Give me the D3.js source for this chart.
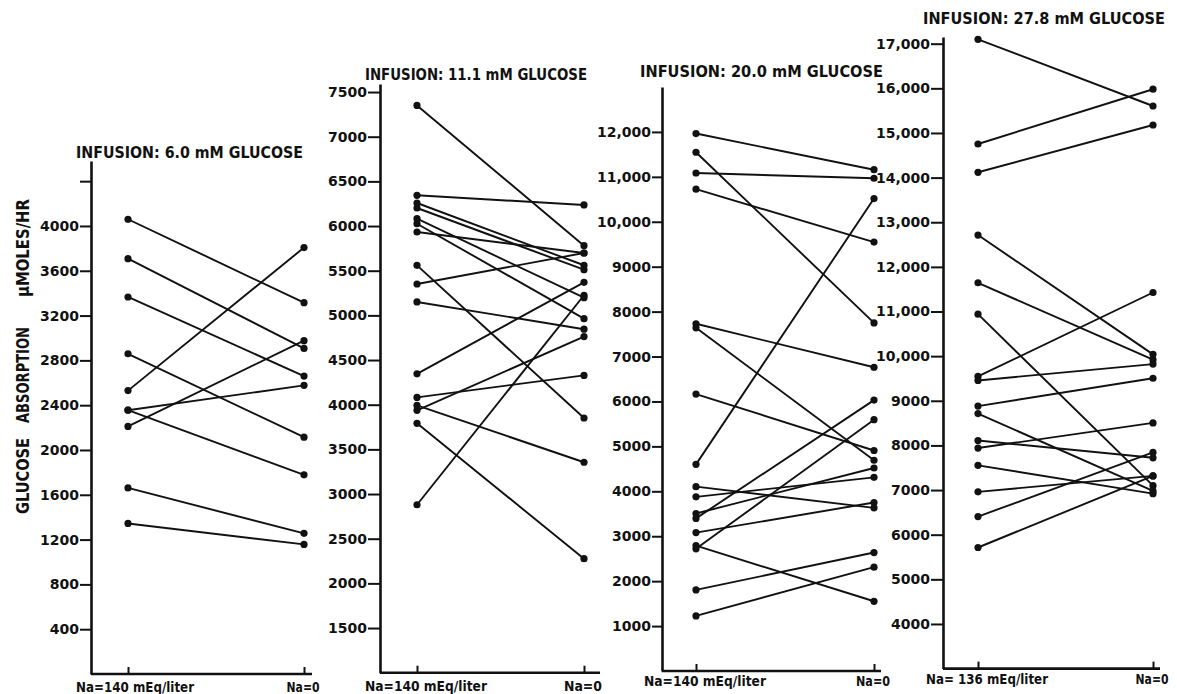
<!DOCTYPE html>
<html>
<head>
<meta charset="utf-8">
<script src="https://cdn.jsdelivr.net/npm/d3@7"></script>
<style>
  body { margin: 0; background: #fff; }
  svg { display: block; background: #fff; }
  text { font-family: "DejaVu Sans", sans-serif; font-weight: bold; fill: #111; }
</style>
</head>
<body>
<svg id="chart" width="1177" height="694"></svg>
<script>
// Glucose absorption (µmoles/hr) at normal luminal sodium vs. sodium-free,
// one panel for each glucose infusion concentration. Each line joins one experiment.

const titles = [
  "INFUSION: 6.0 mM GLUCOSE",
  "INFUSION: 11.1 mM GLUCOSE",
  "INFUSION: 20.0 mM GLUCOSE",
  "INFUSION: 27.8 mM GLUCOSE"
];

const conditions6  = ["Na=140 mEq/liter", "Na=0"];
const conditions11 = ["Na=140 mEq/liter", "Na=0"];
const conditions20 = ["Na=140 mEq/liter", "Na=0"];
const conditions28 = ["Na= 136 mEq/liter", "Na=0"];

const yTicks6  = [400, 800, 1200, 1600, 2000, 2400, 2800, 3200, 3600, 4000, 4400];
const yLabels6 = ["400", "800", "1200", "1600", "2000", "2400", "2800", "3200", "3600", "4000", ""];
const yTicks11  = [1500, 2000, 2500, 3000, 3500, 4000, 4500, 5000, 5500, 6000, 6500, 7000, 7500];
const yLabels11 = ["1500", "2000", "2500", "3000", "3500", "4000", "4500", "5000", "5500", "6000", "6500", "7000", "7500"];
const yTicks20  = [1000, 2000, 3000, 4000, 5000, 6000, 7000, 8000, 9000, 10000, 11000, 12000];
const yLabels20 = ["1000", "2000", "3000", "4000", "5000", "6000", "7000", "8000", "9000", "10,000", "11,000", "12,000"];
const yTicks28  = [4000, 5000, 6000, 7000, 8000, 9000, 10000, 11000, 12000, 13000, 14000, 15000, 16000, 17000];
const yLabels28 = ["4000", "5000", "6000", "7000", "8000", "9000", "10,000", "11,000", "12,000", "13,000", "14,000", "15,000", "16,000", "17,000"];

// paired values: withNa[i] -> noNa[i]
const withNa6 = [4060, 3708, 3366, 2859, 2530, 2355, 2355, 2210, 1661, 1344];
const noNa6   = [3315, 2907, 2660, 2114, 3807, 2577, 1778, 2976, 1256, 1157];

const withNa11 = [7350, 6344, 6258, 6202, 6082, 6026, 5933, 5560, 5351, 5150, 4346, 4082, 3992, 3937, 3792, 2880];
const noNa11   = [5780, 6236, 5561, 5511, 5198, 4963, 5698, 3851, 5698, 4845, 5370, 4328, 3356, 4763, 2276, 5225];

const withNa20 = [11964, 11548, 11086, 10725, 7730, 7640, 6165, 4600, 4103, 3877, 3506, 3397, 3081, 2791, 2719, 1805, 1226];
const noNa20   = [11159, 7748, 10969, 9548, 6762, 4691, 4908, 10517, 3632, 4311, 4519, 6030, 3750, 1552, 5595, 2637, 2312];

const withNa28 = [17099, 14753, 14119, 12713, 11644, 10941, 9545, 9455, 8881, 8713, 8109, 7941, 7554, 6960, 6406, 5713];
const noNa28   = [15604, 15980, 15178, 10040, 9921, 7099, 11426, 9822, 9505, 6980, 7723, 8505, 6920, 7317, 7842, 7317];

const panels = [
  { title: titles[0], cats: conditions6,  ticks: yTicks6,  labels: yLabels6,  a: withNa6,  b: noNa6 },
  { title: titles[1], cats: conditions11, ticks: yTicks11, labels: yLabels11, a: withNa11, b: noNa11 },
  { title: titles[2], cats: conditions20, ticks: yTicks20, labels: yLabels20, a: withNa20, b: noNa20 },
  { title: titles[3], cats: conditions28, ticks: yTicks28, labels: yLabels28, a: withNa28, b: noNa28 }
];

// page geometry for each panel
const frames = [
  { axisX: 91,  xl: 128, xr: 304,  xEnd: 312,  yDom: [0, 4580],     yRange: [674, 161],  tick: 11,
    titleX: 76,  titleW: 227, titleY: 158, catY: 692, leftW: 118, rightW: 33 },
  { axisX: 380, xl: 417, xr: 584,  xEnd: 600,  yDom: [1000, 7590],  yRange: [672.7, 84], tick: 12,
    titleX: 365, titleW: 222, titleY: 80,  catY: 691, leftW: 122, rightW: 38 },
  { axisX: 662, xl: 696, xr: 874,  xEnd: 881,  yDom: [0, 13000],    yRange: [671, 87],   tick: 10,
    titleX: 640, titleW: 243, titleY: 77,  catY: 686, leftW: 122, rightW: 34 },
  { axisX: 943, xl: 978, xr: 1153, xEnd: 1160, yDom: [3000, 17150], yRange: [668.6, 37], tick: 12,
    titleX: 923, titleW: 242, titleY: 24,  catY: 684, leftW: 122, rightW: 33 }
];

const svg = d3.select("#chart");

panels.forEach((p, k) => {
  const f = frames[k];
  const g = svg.append("g");

  const y = d3.scaleLinear().domain(f.yDom).range(f.yRange);
  const x = d3.scalePoint().domain(p.cats).range([f.xl, f.xr]);

  // vertical axis with outward ticks
  const yAxis = d3.axisLeft(y)
    .tickValues(p.ticks)
    .tickFormat((d, i) => p.labels[i])
    .tickSize(f.tick)
    .tickSizeOuter(0)
    .tickPadding(1);
  const ya = g.append("g").attr("transform", `translate(${f.axisX},0)`).call(yAxis);
  ya.select(".domain").attr("stroke", "#111").attr("stroke-width", 2.6);
  ya.selectAll(".tick line").attr("stroke", "#111").attr("stroke-width", 2);
  ya.selectAll(".tick text").style("font-size", "14px").attr("fill", "#111");

  // horizontal axis line
  const baseY = f.yRange[0];
  g.append("line")
    .attr("x1", f.axisX).attr("x2", f.xEnd)
    .attr("y1", baseY).attr("y2", baseY)
    .attr("stroke", "#111").attr("stroke-width", 2.6);

  // small upward category ticks
  const xAxis = d3.axisBottom(x).tickSize(-7).tickSizeOuter(0).tickFormat("");
  const xa = g.append("g").attr("transform", `translate(0,${baseY})`).call(xAxis);
  xa.select(".domain").remove();
  xa.selectAll(".tick line").attr("stroke", "#111").attr("stroke-width", 2);

  // category labels
  g.append("text")
    .attr("x", x(p.cats[0]) - 52).attr("y", f.catY)
    .attr("textLength", f.leftW).attr("lengthAdjust", "spacingAndGlyphs")
    .style("font-size", "14px")
    .text(p.cats[0]);
  g.append("text")
    .attr("x", x(p.cats[1]) - 1).attr("y", f.catY)
    .attr("text-anchor", "middle")
    .attr("textLength", f.rightW).attr("lengthAdjust", "spacingAndGlyphs")
    .style("font-size", "14px")
    .text(p.cats[1]);

  // panel title
  g.append("text")
    .attr("x", f.titleX).attr("y", f.titleY)
    .attr("textLength", f.titleW).attr("lengthAdjust", "spacingAndGlyphs")
    .style("font-size", "15px")
    .text(p.title);

  // paired lines
  const pairs = p.a.map((v, i) => ({ from: v, to: p.b[i] }));
  g.selectAll("line.pair").data(pairs).enter().append("line")
    .attr("class", "pair")
    .attr("x1", x(p.cats[0])).attr("x2", x(p.cats[1]))
    .attr("y1", d => y(d.from)).attr("y2", d => y(d.to))
    .attr("stroke", "#111").attr("stroke-width", 1.9);

  const pts = [];
  pairs.forEach(d => {
    pts.push({ c: p.cats[0], v: d.from });
    pts.push({ c: p.cats[1], v: d.to });
  });
  g.selectAll("circle").data(pts).enter().append("circle")
    .attr("cx", d => x(d.c)).attr("cy", d => y(d.v))
    .attr("r", 3.6).attr("fill", "#111");
});

// shared vertical title
const yTitle = [
  { t: "GLUCOSE", cy: 476, w: 76 },
  { t: "ABSORPTION", cy: 375, w: 96 },
  { t: "\u03BCMOLES/HR", cy: 248, w: 98 }
];
svg.selectAll("text.ytitle").data(yTitle).enter().append("text")
  .attr("class", "ytitle")
  .attr("transform", d => `translate(29,${d.cy}) rotate(-90)`)
  .attr("text-anchor", "middle")
  .attr("textLength", d => d.w).attr("lengthAdjust", "spacingAndGlyphs")
  .style("font-size", "18px")
  .text(d => d.t);
</script>
</body>
</html>
